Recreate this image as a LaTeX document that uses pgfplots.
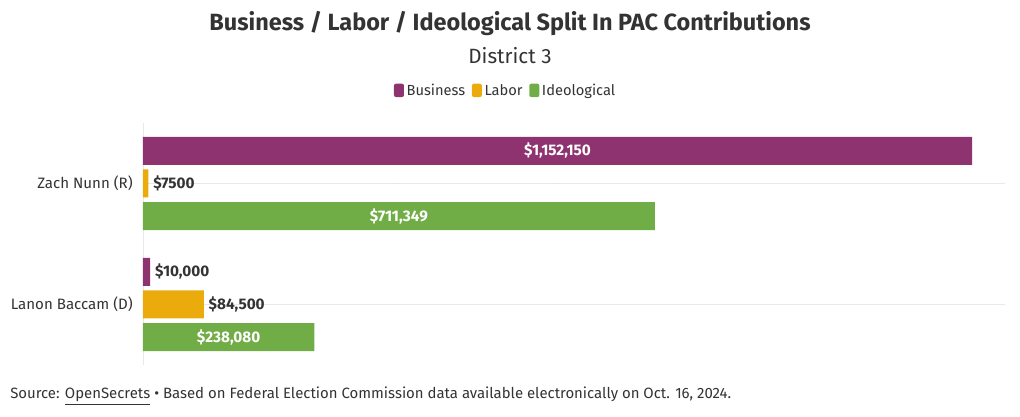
\documentclass[border=0pt]{standalone}
\usepackage{pgfplots}
\pgfplotsset{compat=1.18}
\usepackage{fontspec}
\setmainfont{Fira Sans}
\definecolor{bus}{RGB}{143,51,112}
\definecolor{lab}{RGB}{236,171,13}
\definecolor{ide}{RGB}{113,173,71}
\definecolor{txt}{RGB}{51,51,51}
\definecolor{gridc}{RGB}{232,232,232}
\begin{document}
\begin{tikzpicture}
\path[use as bounding box] (0,0) rectangle (765pt,312.75pt);
\node[text=txt, font=\fontsize{17.6}{20}\selectfont\bfseries] at (382.5pt,294.75pt) {Business / Labor / Ideological Split In PAC Contributions};
\node[text=txt, font=\fontsize{15.5}{18}\selectfont] at (382.5pt,270.75pt) {District 3};
\node[text=txt, anchor=west, font=\fontsize{11.2}{13}\selectfont, inner sep=0pt] at (7.5pt,15.75pt) {Source: \underline{OpenSecrets} • Based on Federal Election Commission data available electronically on Oct. 16, 2024.};
\begin{axis}[
  at={(107.25pt,39pt)}, anchor=south west,
  width=646.5pt, height=181.5pt, scale only axis,
  xmin=0, xmax=1198000, ymin=-0.5, ymax=1.5,
  axis x line=none,
  axis y line*=left,
  y axis line style={draw=gridc, -},
  ytick={0,1}, yticklabels={Lanon Baccam (D), Zach Nunn (R)},
  major tick length=0pt,
  yticklabel style={text=txt, font=\fontsize{11.3}{13}\selectfont, inner sep=0pt, xshift=-7.5pt},
  ymajorgrids, major grid style={draw=gridc},
  bar width=21pt,
  legend columns=3,
  legend style={at={(0.421,1.132)}, anchor=center, draw=none, fill=none,
    font=\fontsize{11}{13}\selectfont, text=txt,
    /tikz/every even column/.append style={column sep=3pt}},
  legend image code/.code={\fill[#1, rounded corners=1.5pt] (0pt,-4.5pt) rectangle (7.5pt,5.5pt);},
  point meta=explicit symbolic,
  clip=false,
]
% Business
\addplot[xbar, bar shift=24.4pt, fill=bus, draw=none] coordinates {(1152150,1) (10000,0)};
\addlegendentry{Business}
% Labor
\addplot[xbar, bar shift=0pt, fill=lab, draw=none] coordinates {(7500,1) (84500,0)};
\addlegendentry{Labor}
% Ideological
\addplot[xbar, bar shift=-24.4pt, fill=ide, draw=none] coordinates {(711349,1) (238080,0)};
\addlegendentry{Ideological}

% outside labels
\addplot[forget plot, only marks, mark=*, mark size=0pt, draw=none, nodes near coords,
  every node near coord/.append style={anchor=west, inner sep=0pt, xshift=3.5pt, yshift=24.4pt, text=txt, font=\fontsize{11.5}{13}\selectfont\bfseries}]
  coordinates {(10000,0) [\$10,000]};
\addplot[forget plot, only marks, mark=*, mark size=0pt, draw=none, nodes near coords,
  every node near coord/.append style={anchor=west, inner sep=0pt, xshift=3.5pt, yshift=0pt, text=txt, font=\fontsize{11.5}{13}\selectfont\bfseries}]
  coordinates {(7500,1) [\$7500] (84500,0) [\$84,500]};

% inside labels
\addplot[forget plot, only marks, mark=*, mark size=0pt, draw=none, x filter/.expression={x/2},
  nodes near coords,
  every node near coord/.append style={anchor=center, inner sep=0pt, yshift=24.4pt, text=white, font=\fontsize{11.5}{13}\selectfont\bfseries}]
  coordinates {(1152150,1) [\$1,152,150]};
\addplot[forget plot, only marks, mark=*, mark size=0pt, draw=none, x filter/.expression={x/2},
  nodes near coords,
  every node near coord/.append style={anchor=center, inner sep=0pt, yshift=-24.4pt, text=white, font=\fontsize{11.5}{13}\selectfont\bfseries}]
  coordinates {(711349,1) [\$711,349] (238080,0) [\$238,080]};
\end{axis}
\end{tikzpicture}
\end{document}
